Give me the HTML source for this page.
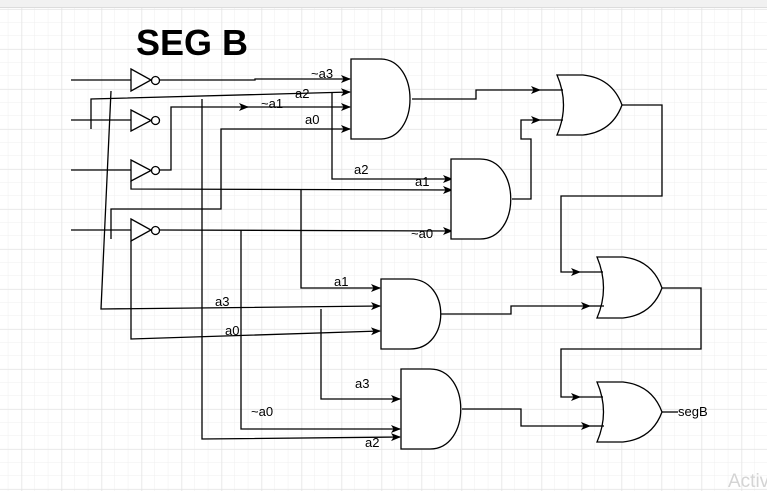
<!DOCTYPE html>
<html><head><meta charset="utf-8"><style>
html,body{margin:0;padding:0;background:#fff;}
body{width:767px;height:491px;overflow:hidden;position:relative;font-family:"Liberation Sans",Arial,sans-serif;}
svg{position:absolute;left:0;top:0;}
</style></head><body>
<svg width="767" height="491" viewBox="0 0 767 491" xmlns="http://www.w3.org/2000/svg">
<defs>
<pattern id="minor" x="8.3" y="9.3" width="13.333" height="13.333" patternUnits="userSpaceOnUse">
<path d="M13.333 0V13.333H0" fill="none" stroke="#efefef" stroke-width="1"/>
</pattern>
<pattern id="major" x="21.7" y="9.3" width="40" height="40" patternUnits="userSpaceOnUse">
<path d="M0 0V40M0 0H40" fill="none" stroke="#e0e0e0" stroke-width="1"/>
</pattern>
<marker id="ar" viewBox="0 0 10 10" refX="9" refY="5" markerWidth="10" markerHeight="10" markerUnits="userSpaceOnUse" orient="auto">
<path d="M0,1 L10,5 L0,9 L2.5,5 Z" fill="#000"/>
</marker>
</defs>
<rect width="767" height="491" fill="#fff"/>
<rect width="767" height="491" fill="url(#minor)"/>
<rect width="767" height="491" fill="url(#major)"/>
<rect x="0" y="0" width="767" height="7" fill="#f1f1f1"/>
<line x1="0" y1="7.5" x2="767" y2="7.5" stroke="#dcdcdc"/>

<text x="136" y="55" font-size="36" font-weight="bold" fill="#000" font-family="Liberation Sans,Arial,sans-serif">SEG B</text>

<g fill="none" stroke="#000" stroke-width="1.3">
<line x1="71" y1="80" x2="131" y2="80"/>
<line x1="71" y1="120" x2="131" y2="120"/>
<line x1="71" y1="170" x2="131" y2="170"/>
<line x1="71" y1="230" x2="131" y2="230"/>
<path d="M131,69 L151,80 L131,91 Z" fill="#fff"/><circle cx="155.5" cy="80.5" r="4" fill="#fff"/>
<path d="M131,110 L151,120.5 L131,131 Z" fill="#fff"/><circle cx="155.5" cy="120.5" r="4" fill="#fff"/>
<path d="M131,160 L151,170.5 L131,181 Z" fill="#fff"/><circle cx="155.5" cy="170.5" r="4" fill="#fff"/>
<path d="M131,219 L151,230 L131,241 Z" fill="#fff"/><circle cx="155.5" cy="230.5" r="4" fill="#fff"/>

<polyline points="160,80 255,80 255,79 350,79" marker-end="url(#ar)"/>
<polyline points="91,129 91,99 350,92" marker-end="url(#ar)"/>
<polyline points="160,170 171,170 171,107 248,107" marker-end="url(#ar)"/>
<line x1="246" y1="107" x2="350" y2="107" marker-end="url(#ar)"/>
<polyline points="111,239 111,209 221,209 221,129 350,129" marker-end="url(#ar)"/>
<polyline points="111,91 101,309 380,306" marker-end="url(#ar)"/>
<polyline points="202,99 202,439 400,437" marker-end="url(#ar)"/>
<polyline points="332,92 332,179 452,179" marker-end="url(#ar)"/>
<polyline points="131,181 131,189 452,190" marker-end="url(#ar)"/>
<polyline points="301,189 301,288 380,288" marker-end="url(#ar)"/>
<polyline points="160,230 452,231" marker-end="url(#ar)"/>
<polyline points="241,230 241,429 400,429" marker-end="url(#ar)"/>
<polyline points="131,241 131,339 380,331" marker-end="url(#ar)"/>
<polyline points="321,309 321,399 400,399" marker-end="url(#ar)"/>

<path d="M351,59 H380 C420,59 420,139 380,139 H351 Z" fill="#fff"/>
<path d="M451,159 H480 C521,159 521,239 480,239 H451 Z" fill="#fff"/>
<path d="M381,279 H410 C451,279 451,349 410,349 H381 Z" fill="#fff"/>
<path d="M401,369 H430 C471,369 471,449 430,449 H401 Z" fill="#fff"/>

<path d="M557,75 H583 Q612,78 622,105 Q612,132 583,135 H557 Q570,105 557,75 Z" fill="#fff"/>
<path d="M597,257 H623 Q652,260 662,288 Q652,315 623,318 H597 Q610,288 597,257 Z" fill="#fff"/>
<path d="M597,382 H623 Q652,385 662,412 Q652,439 623,442 H597 Q610,412 597,382 Z" fill="#fff"/>

<polyline points="412,99 476,99 476,90 540,90" marker-end="url(#ar)"/>
<line x1="540" y1="90" x2="563" y2="90"/>
<polyline points="512,199 531,199 531,139 521,139 521,120 540,120" marker-end="url(#ar)"/>
<line x1="540" y1="120" x2="563" y2="120"/>
<polyline points="622,105 662,105 662,196 561,196 561,272 580,272" marker-end="url(#ar)"/>
<line x1="580" y1="272" x2="603" y2="272"/>
<polyline points="441,314 511,314 511,306 590,306" marker-end="url(#ar)"/>
<line x1="590" y1="306" x2="604" y2="306"/>
<polyline points="662,288 701,288 701,349 561,349 561,397 580,397" marker-end="url(#ar)"/>
<line x1="580" y1="397" x2="603" y2="397"/>
<polyline points="462,409 521,409 521,426 590,426" marker-end="url(#ar)"/>
<line x1="590" y1="426" x2="604" y2="426"/>
<line x1="662" y1="412" x2="678" y2="412"/>
</g>

<g font-size="13" fill="#000" font-family="Liberation Sans,Arial,sans-serif">
<text x="311" y="78">~a3</text>
<text x="295" y="98">a2</text>
<text x="261" y="108">~a1</text>
<text x="305" y="124">a0</text>
<text x="354" y="174">a2</text>
<text x="415" y="186">a1</text>
<text x="411" y="238">~a0</text>
<text x="334" y="286">a1</text>
<text x="215" y="306">a3</text>
<text x="225" y="335">a0</text>
<text x="355" y="388">a3</text>
<text x="251" y="416">~a0</text>
<text x="365" y="447">a2</text>
<text x="678" y="416">segB</text>
</g>
<text x="728" y="487" font-size="19" fill="#d4d4d4" font-family="Liberation Sans,Arial,sans-serif">Activ</text>
</svg>
</body></html>
